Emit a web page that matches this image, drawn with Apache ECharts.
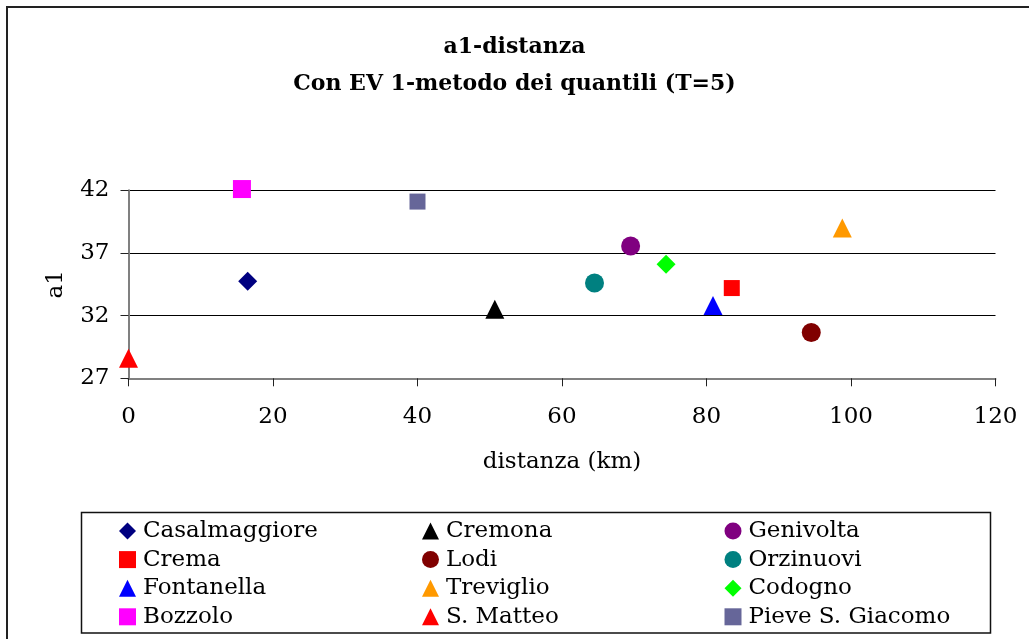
<!DOCTYPE html>
<html>
<head>
<meta charset="utf-8">
<script src="https://cdn.jsdelivr.net/npm/echarts@6/dist/echarts.min.js"></script>
<style>
html,body{margin:0;padding:0;background:#fff;}
#c{width:1029px;height:639px;}
</style>
</head>
<body>
<div id="c"></div>
<script>
const names = ['Casalmaggiore','Cremona','Genivolta','Crema','Lodi','Orzinuovi','Fontanella','Treviglio','Codogno','Bozzolo','S. Matteo','Pieve S. Giacomo'];
const distanza = [16.5, 50.7, 69.5, 83.5, 94.5, 64.5, 80.9, 98.8, 74.4, 15.7, 0, 40.0];
const a1 = [34.75, 32.5, 37.55, 34.2, 30.65, 34.6, 32.8, 39.0, 36.1, 42.1, 28.6, 41.1];
const symbols = ['diamond','triangle','circle','rect','circle','circle','triangle','triangle','diamond','rect','triangle','rect'];
const colors = ['#000080','#000000','#800080','#FF0000','#800000','#008080','#0000FF','#FF9900','#00FF00','#FF00FF','#FF0000','#666699'];
const sizes = [19, 19, 19, 16, 19, 19, 19, 19, 19, 18, 19, 16];
const xTicks = [0, 20, 40, 60, 80, 100, 120];
const yTicks = [27, 32, 37, 42];
const titleLines = ['a1-distanza', 'Con EV 1-metodo dei quantili (T=5)'];

const FONT = 'DejaVu Serif';
const chart = echarts.init(document.getElementById('c'), null, {renderer: 'canvas'});

const series = names.map((n, i) => ({
  name: n,
  type: 'scatter',
  symbol: symbols[i],
  symbolSize: sizes[i],
  clip: false,
  itemStyle: {color: colors[i], opacity: 1},
  data: [[distanza[i], a1[i]]]
}));

const cols = [[0,3,6,9],[1,4,7,10],[2,5,8,11]];
const colX = [119, 422, 724.5];
const legends = cols.map((c, k) => ({
  data: c.map(i => names[i]),
  orient: 'vertical',
  left: colX[k],
  top: 519,
  padding: 0,
  itemWidth: 17,
  itemHeight: 17,
  itemGap: 4.6,
  textStyle: {fontFamily: FONT, fontSize: 23, color: '#000', lineHeight: 24, padding: [0,0,0,2]},
  selectedMode: false
}));

chart.setOption({
  animation: false,
  backgroundColor: '#fff',
  title: {
    text: titleLines.join('\n'),
    left: 'center',
    top: 24,
    textStyle: {fontFamily: FONT, fontWeight: 'bold', fontSize: 22, color: '#000', lineHeight: 37}
  },
  legend: legends,
  grid: {left: 128.5, right: 33.5, top: 190.3, bottom: 260.7, containLabel: false},
  xAxis: {
    type: 'value', min: xTicks[0], max: xTicks[xTicks.length-1], interval: 20,
    name: 'distanza (km)', nameLocation: 'middle', nameGap: 72,
    nameTextStyle: {fontFamily: FONT, fontSize: 23, color: '#000'},
    axisLine: {show: true, lineStyle: {color: '#808080', width: 2}},
    axisTick: {show: true, length: 8, lineStyle: {color: '#222', width: 1}},
    axisLabel: {fontFamily: FONT, fontSize: 23, color: '#000', margin: 27},
    splitLine: {show: false}
  },
  yAxis: {
    type: 'value', min: yTicks[0], max: yTicks[yTicks.length-1], interval: 5,
    name: 'a1', nameLocation: 'middle', nameGap: 61, nameRotate: 90,
    nameTextStyle: {fontFamily: FONT, fontSize: 23, color: '#000'},
    axisLine: {show: true, onZero: false, lineStyle: {color: '#808080', width: 2}},
    axisTick: {show: true, length: 8, lineStyle: {color: '#222', width: 1}},
    axisLabel: {fontFamily: FONT, fontSize: 23, color: '#000', margin: 19},
    splitLine: {show: true, lineStyle: {color: '#000', width: 1}}
  },
  graphic: [
    {type: 'rect', shape: {x: 7, y: 7, width: 1040, height: 660}, style: {fill: 'none', stroke: '#222', lineWidth: 2}, silent: true, z: -1},
    {type: 'rect', shape: {x: 81.5, y: 512.5, width: 909, height: 120.5}, style: {fill: 'none', stroke: '#111', lineWidth: 1.5}, silent: true, z: -1}
  ],
  series: series
});
</script>
</body>
</html>
